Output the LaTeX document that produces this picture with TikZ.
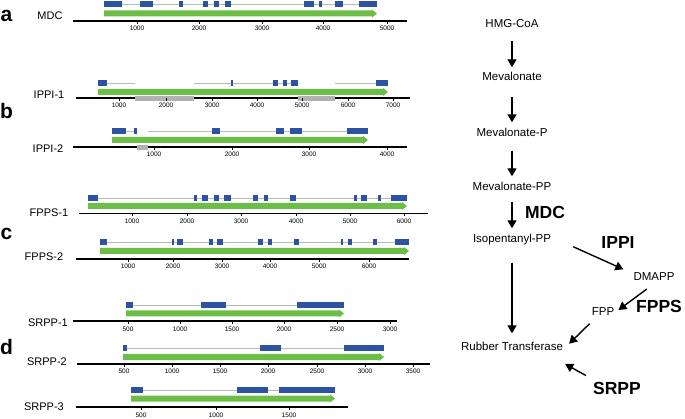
\documentclass[tikz,border=0pt]{standalone}
\usepackage{fontspec}
\setmainfont{Liberation Sans}
\usetikzlibrary{arrows.meta}
\definecolor{exonblue}{RGB}{44,82,162}
\definecolor{cdsgreen}{RGB}{108,190,70}
\definecolor{introngray}{RGB}{185,185,185}
\definecolor{gapgray}{RGB}{178,178,178}

\begin{document}
\begin{tikzpicture}[x=1pt, y=-1pt,
        exon/.style={fill=exonblue},
        intron/.style={draw=introngray, line width=0.9pt},
        cds/.style={fill=cdsgreen},
        gapbar/.style={fill=gapgray},
        axis/.style={line width=1.2pt},
        tickmark/.style={line width=0.6pt},
        tick/.style={font=\fontsize{6.5}{8}\selectfont, inner sep=0pt},
        gene/.style={font=\fontsize{11}{13}\selectfont, inner sep=0pt},
        panel/.style={font=\bfseries\fontsize{21}{24}\selectfont, inner sep=0pt, anchor=base},
        met/.style={font=\fontsize{11.5}{13}\selectfont, inner sep=0pt, text height=8.5pt, text depth=2.5pt},
        enz/.style={font=\bfseries\fontsize{17.5}{20}\selectfont, inner sep=0pt},
        arr/.style={-{Triangle[length=8pt, width=9pt]}, line width=1.4pt},
    ]
    \useasboundingbox (0,0) rectangle (685,419);

    % panel letters and gene names
    \node[panel] (pa) at (6.5,22) {a};
    \node[panel] (pb) at (6.5,119) {b};
    \node[panel] (pc) at (6.5,239.5) {c};
    \node[panel] (pd) at (6.5,355) {d};
    \node[gene] (mdc) at (50,16) {MDC};
    \node[gene] (ippi1) at (49,95) {IPPI-1};
    \node[gene] (ippi2) at (48,149) {IPPI-2};
    \node[gene] (fpps1) at (49,213) {FPPS-1};
    \node[gene] (fpps2) at (44,257) {FPPS-2};
    \node[gene] (srpp1) at (48,323) {SRPP-1};
    \node[gene] (srpp2) at (47,362) {SRPP-2};
    \node[gene] (srpp3) at (44,407) {SRPP-3};

    % scale bars
    \foreach \y/\a/\b in {21/73/407, 98/76/410, 147/73/407, 213.5/79/428,
                          259/76/409, 321/73/397, 364/77/430, 407/76/348}
        \draw[axis] (\a,\y) -- (\b,\y);

    % introns
    \draw[intron] (104,4.5) -- (377,4.5);
    \draw[intron] (107,83) -- (135,83);
    \draw[intron] (194,83) -- (298,83);
    \draw[intron] (335,83) -- (376,83);
    \draw[intron] (126,131) -- (134,131);
    \draw[intron] (148,131) -- (347,131);
    \draw[intron] (98,198) -- (391,198);
    \draw[intron] (107,242) -- (395,242);
    \draw[intron] (133,305) -- (297,305);
    \draw[intron] (127,348) -- (344,348);
    \draw[intron] (143,390) -- (279,390);

    % exons
    \foreach \a/\b in {104/122, 140/153, 179/183, 203/208, 214/219, 225/231,
                       304/314, 319/322, 335/343, 359/377}
        \fill[exon] (\a,1.5) rectangle (\b,7.5);
    \foreach \a/\b in {98/107, 231/233, 273/278, 283/287, 291/298, 376/388}
        \fill[exon] (\a,80) rectangle (\b,86);
    \foreach \a/\b in {112/126, 134/137, 212/220, 276/284, 290/302, 347/368}
        \fill[exon] (\a,128) rectangle (\b,134);
    \foreach \a/\b in {88/98, 194/197, 202/208, 214/219, 224/231, 253/258, 264/268,
                       290/296, 354/357, 361/367, 378/381, 391/407}
        \fill[exon] (\a,195) rectangle (\b,201);
    \foreach \a/\b in {100/107, 172/173.5, 177/183, 209/213, 217/223, 258/263, 268/272,
                       294/299, 341/343, 348/352, 373/377, 395/409}
        \fill[exon] (\a,239) rectangle (\b,245);
    \foreach \a/\b in {126/133, 201/226, 297/344}
        \fill[exon] (\a,302) rectangle (\b,308);
    \foreach \a/\b in {123/127, 260/281, 344/384}
        \fill[exon] (\a,345) rectangle (\b,351);
    \foreach \a/\b in {131/143, 237/268, 279/335}
        \fill[exon] (\a,387) rectangle (\b,393);

    % coding sequence arrows
    \foreach \y/\a/\b in {13.5/104/377, 92/98/388, 140/112/368, 206/88/407,
                          251/100/409, 313.5/126/344, 357/123/384, 398.5/131/335}
        \fill[cds] (\a,\y-3) -- (\b-5,\y-3) -- (\b-5,\y-4) -- (\b,\y)
            -- (\b-5,\y+4) -- (\b-5,\y+3) -- (\a,\y+3) -- cycle;

    % unsequenced gaps
    \fill[gapbar] (135,96) rectangle (194,101);
    \fill[gapbar] (298,96) rectangle (335,101);
    \fill[gapbar] (137,145) rectangle (148,150);

    % ticks
    \foreach \x/\t in {137/1000, 199/2000, 262/3000, 323/4000, 387/5000} {
        \draw[tickmark] (\x,21) -- (\x,24);
        \node[tick] (mdc-\t) at (\x,28) {\t};
    }
    \foreach \x/\t in {119/1000, 166/2000, 212/3000, 257/4000, 302/5000, 348/6000, 393/7000} {
        \draw[tickmark] (\x,98) -- (\x,101);
        \node[tick] (ippia-\t) at (\x,105.5) {\t};
    }
    \foreach \x/\t in {154/1000, 232/2000, 309/3000, 387/4000} {
        \draw[tickmark] (\x,147) -- (\x,150);
        \node[tick] (ippib-\t) at (\x,154.5) {\t};
    }
    \foreach \x/\t in {132/1000, 187/2000, 241/3000, 296/4000, 350/5000, 404/6000} {
        \draw[tickmark] (\x,213.5) -- (\x,216.5);
        \node[tick] (fppsa-\t) at (\x,221.5) {\t};
    }
    \foreach \x/\t in {128/1000, 173/2000, 222/3000, 270/4000, 319/5000, 369/6000} {
        \draw[tickmark] (\x,259) -- (\x,262);
        \node[tick] (fppsb-\t) at (\x,266.5) {\t};
    }
    \foreach \x/\t in {128/500, 180/1000, 232/1500, 284/2000, 337/2500, 390/3000} {
        \draw[tickmark] (\x,321) -- (\x,324);
        \node[tick] (srppa-\t) at (\x,329) {\t};
    }
    \foreach \x/\t in {124/500, 172/1000, 220/1500, 268/2000, 317/2500, 365/3000, 413/3500} {
        \draw[tickmark] (\x,364) -- (\x,367);
        \node[tick] (srppb-\t) at (\x,371.5) {\t};
    }
    \foreach \x/\t in {141/500, 216/1000, 289/1500} {
        \draw[tickmark] (\x,407) -- (\x,410);
        \node[tick] (srppc-\t) at (\x,415.5) {\t};
    }

    % pathway
    \node[met] (hmg) at (512,25) {HMG-CoA};
    \node[met] (mev) at (512,78) {Mevalonate};
    \node[met] (mevp) at (512,134) {Mevalonate-P};
    \node[met] (mevpp) at (512,188) {Mevalonate-PP};
    \node[met] (ipp) at (512,240) {Isopentanyl-PP};
    \node[met] (rt) at (512,347) {Rubber Transferase};
    \node[met] (dmapp) at (654,278) {DMAPP};
    \node[met] (fpp) at (603,313) {FPP};
    \node[enz] (mdc-enz) at (545,212) {MDC};
    \node[enz] (ippi-enz) at (618,242) {IPPI};
    \node[enz] (fpps-enz) at (659,306) {FPPS};
    \node[enz] (srpp-enz) at (617,388) {SRPP};

    \draw[arr, shorten <=10pt, shorten >=5pt] (hmg) -- (mev);
    \draw[arr, shorten <=13pt, shorten >=6pt] (mev) -- (mevp);
    \draw[arr, shorten <=11pt, shorten >=6pt] (mevp) -- (mevpp);
    \draw[arr, shorten <=8pt, shorten >=6pt] (mevpp) -- (ipp);
    \draw[arr, shorten <=17pt, shorten >=8pt] (ipp) -- (rt);
    \draw[arr] ([xshift=22pt, yshift=-1pt]ipp.south east) -- ([xshift=-10pt, yshift=3pt]dmapp.north west);
    \draw[arr, shorten <=9pt, shorten >=5pt] (dmapp.south) -- (fpp.east);
    \draw[arr] ([xshift=-2pt, yshift=-5pt]fpp.south west) -- ([xshift=6pt, yshift=9pt]rt.south east);
    \draw[arr] ([shift={(-7pt,6pt)}]srpp-enz.north west) -- ([shift={(2pt,-17pt)}]rt.east);
\end{tikzpicture}
\end{document}
